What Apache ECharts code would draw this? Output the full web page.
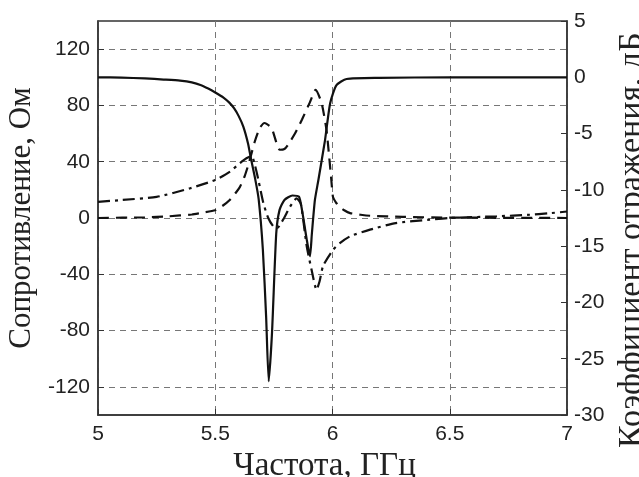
<!DOCTYPE html>
<html>
<head>
<meta charset="utf-8">
<script src="https://cdn.jsdelivr.net/npm/echarts@6/dist/echarts.min.js"></script>
<style>
html,body{margin:0;padding:0;background:#fff;}
#c{width:639px;height:477px;}
</style>
</head>
<body>
<div id="c"></div>
<script>
// Reflection coefficient, dB (solid, right axis)
var reflFreq = [5.0, 5.1, 5.2, 5.28, 5.35, 5.4, 5.44, 5.47, 5.5, 5.535, 5.56, 5.58, 5.6, 5.62, 5.64, 5.652, 5.67, 5.685, 5.703, 5.717, 5.728, 5.742, 5.76, 5.774, 5.795, 5.829, 5.857, 5.87, 5.89, 5.904, 5.912, 5.925, 5.94, 5.968, 5.99, 6.017, 6.06, 6.2, 6.5, 7.0];
var reflDb   = [0, -0.03, -0.1, -0.2, -0.3, -0.45, -0.7, -1.0, -1.35, -1.8, -2.25, -2.75, -3.45, -4.4, -5.9, -7.2, -9.0, -10.8, -15.3, -21.3, -27.0, -22.7, -13.9, -11.8, -10.9, -10.5, -10.6, -11.8, -14.4, -15.9, -13.9, -10.9, -9.1, -5.6, -2.3, -0.7, -0.15, -0.05, 0, 0];

// Resistance, Ohm (dashed, left axis)
var resFreq = [5.0, 5.2, 5.3, 5.4, 5.435, 5.5, 5.53, 5.563, 5.59, 5.605, 5.626, 5.645, 5.668, 5.69, 5.71, 5.74, 5.76, 5.775, 5.795, 5.81, 5.84, 5.87, 5.903, 5.928, 5.953, 5.974, 5.985, 5.995, 6.002, 6.015, 6.03, 6.05, 6.075, 6.12, 6.16, 6.3, 6.5, 7.0];
var resOhm  = [0, 0.5, 1.2, 2.5, 3.5, 5.5, 8.5, 13, 18.5, 22, 30, 40, 54, 64, 67.5, 64, 54, 48.5, 49, 52, 60, 70, 82, 91, 82, 63, 45, 27, 15, 11, 8, 5.5, 3.5, 2.3, 1.6, 0.8, 0.3, 0];

// Reactance, Ohm (dash-dot, left axis)
var reaFreq = [5.0, 5.1, 5.25, 5.39, 5.5, 5.563, 5.62, 5.655, 5.67, 5.684, 5.705, 5.726, 5.748, 5.765, 5.79, 5.819, 5.847, 5.865, 5.89, 5.911, 5.932, 5.945, 5.96, 6.003, 6.03, 6.075, 6.16, 6.27, 6.415, 6.5, 6.7, 6.84, 6.92, 7.0];
var reaOhm  = [11.4, 12.8, 15, 21, 27, 33, 41, 44, 37, 27, 10.7, 0, -6, -7, -1, 8, 14, 10, -20, -37, -51, -45, -34, -22.5, -18, -13, -8.3, -3.6, -1.2, 0, 1.2, 2.3, 3.3, 4.6];

// Tick labels
var xTicks = [5, 5.5, 6, 6.5, 7];
var leftTicks = [-120, -80, -40, 0, 40, 80, 120];
var rightTicks = [-30, -25, -20, -15, -10, -5, 0, 5];

function pairs(xs, ys) { return xs.map(function (x, i) { return [x, ys[i]]; }); }

var chart = echarts.init(document.getElementById('c'), null, {renderer: 'canvas'});
var sans = "'Liberation Sans', Arial, sans-serif";
var serif = "'Liberation Serif', 'Times New Roman', serif";
var gridDash = {color: '#777', type: [6, 5], width: 1};

chart.setOption({
  animation: false,
  backgroundColor: '#fff',
  grid: {left: 98, right: 72, top: 21, bottom: 62, containLabel: false, outerBoundsMode: 'none',
    show: true, borderColor: '#333', borderWidth: 1.5, backgroundColor: 'transparent'},
  xAxis: {
    type: 'value', min: 5, max: 7, interval: 0.5,
    name: 'Частота, ГГц', nameLocation: 'middle', nameGap: 33,
    nameTextStyle: {fontFamily: serif, fontSize: 33, color: '#222', padding: [0, 16, 0, 0]},
    axisLine: {show: true, onZero: false, lineStyle: {color: '#333', width: 1.5}},
    axisTick: {show: true, inside: true, length: 6, lineStyle: {color: '#333'}},
    axisLabel: {fontFamily: sans, fontSize: 21, color: '#222', margin: 9,
      formatter: function (v) { return xTicks.indexOf(v) >= 0 ? String(v) : ''; }},
    splitLine: {show: true, lineStyle: gridDash}
  },
  yAxis: [{
    type: 'value', min: -140, max: 140, position: 'left',
    name: 'Сопротивление, Ом', nameLocation: 'middle', nameGap: 58, nameRotate: 90,
    nameTextStyle: {fontFamily: serif, fontSize: 31, color: '#222'},
    axisLine: {show: true, onZero: false, lineStyle: {color: '#333', width: 1.5}},
    axisTick: {show: true, inside: true, length: 6, customValues: leftTicks, lineStyle: {color: '#333'}},
    axisLabel: {fontFamily: sans, fontSize: 21, color: '#222', margin: 8, customValues: leftTicks},
    splitLine: {show: true, lineStyle: gridDash}
  }, {
    type: 'value', min: -30, max: 5, interval: 5, position: 'right',
    name: 'Коэффициент отражения, дБ', nameLocation: 'middle', nameGap: 48, nameRotate: 90,
    nameTextStyle: {fontFamily: serif, fontSize: 34, color: '#222', padding: [0, 44, 0, 0]},
    axisLine: {show: true, onZero: false, lineStyle: {color: '#333', width: 1.5}},
    axisTick: {show: true, inside: true, length: 6, lineStyle: {color: '#333'}},
    axisLabel: {fontFamily: sans, fontSize: 21, color: '#222', margin: 7,
      formatter: function (v) { return rightTicks.indexOf(v) >= 0 ? String(v) : ''; }},
    splitLine: {show: false}
  }],
  series: [{
    name: 'R', type: 'line', yAxisIndex: 0, data: pairs(resFreq, resOhm), showSymbol: false, smooth: 0.2,
    lineStyle: {color: '#111', width: 2.2, type: [11, 7]}, z: 3
  }, {
    name: 'X', type: 'line', yAxisIndex: 0, data: pairs(reaFreq, reaOhm), showSymbol: false, smooth: 0.2,
    lineStyle: {color: '#111', width: 2.2, type: [12, 5, 3, 5]}, z: 4
  }, {
    name: 'S11', type: 'line', yAxisIndex: 1, data: pairs(reflFreq, reflDb), showSymbol: false, smooth: 0.2,
    lineStyle: {color: '#111', width: 2.2, type: 'solid'}, z: 5
  }]
});
</script>
</body>
</html>
